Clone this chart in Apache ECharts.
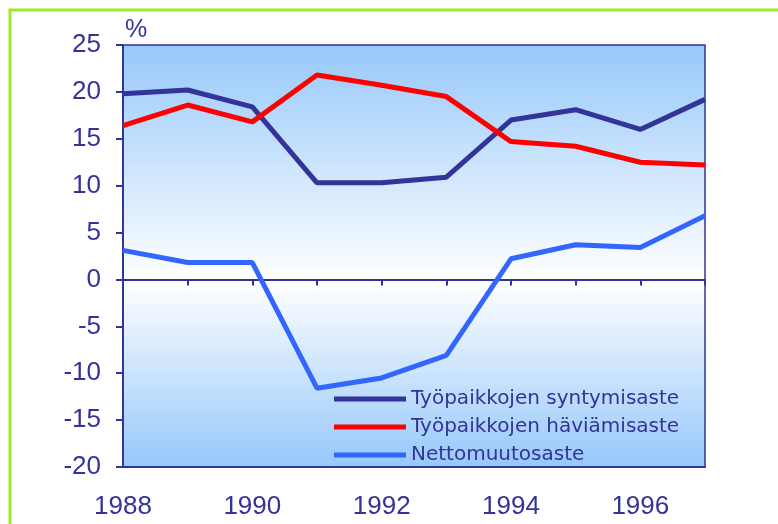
<!DOCTYPE html>
<html>
<head>
<meta charset="utf-8">
<script src="https://cdn.jsdelivr.net/npm/echarts@6/dist/echarts.min.js"></script>
<style>
  body { margin: 0; background: #fff; }
  #chart { width: 778px; height: 524px; }
</style>
</head>
<body>
<div id="chart"></div>
<script>
  var years = ['1988', '1989', '1990', '1991', '1992', '1993', '1994', '1995', '1996', '1997'];
  var syntyminen = [19.8, 20.2, 18.4, 10.3, 10.3, 10.9, 17.0, 18.1, 16.0, 19.2];
  var haviaminen = [16.4, 18.6, 16.8, 21.8, 20.7, 19.5, 14.7, 14.2, 12.5, 12.2];
  var netto = [3.1, 1.8, 1.8, -11.6, -10.5, -8.1, 2.2, 3.7, 3.4, 6.8];
  var seriesNames = ['Työpaikkojen syntymisaste', 'Työpaikkojen häviämisaste', 'Nettomuutosaste'];

  var myChart = echarts.init(document.getElementById('chart'));
  var navy = '#333399';
  var zeroPos = 25 / 45; // nollakohta gradientissa

  var option = {
    animation: false,
    graphic: [{
      type: 'rect',
      shape: { x: 10, y: 10, width: 820, height: 600 },
      style: { fill: 'none', stroke: '#a2e632', lineWidth: 3 }
    }],
    grid: {
      left: 123, right: 73, top: 45, bottom: 57,
      show: true,
      borderColor: navy,
      borderWidth: 1.5,
      backgroundColor: {
        type: 'linear', x: 0, y: 0, x2: 0, y2: 1,
        colorStops: [
          { offset: 0, color: '#96c8fa' },
          { offset: zeroPos, color: '#ffffff' },
          { offset: 1, color: '#96c8fa' }
        ]
      }
    },
    legend: {
      orient: 'vertical',
      left: 329, top: 384,
      icon: 'rect',
      itemWidth: 72, itemHeight: 5, itemGap: 8,
      selectedMode: false,
      textStyle: { color: navy, fontFamily: 'DejaVu Sans', fontSize: 20, lineHeight: 20, padding: [0, 0, 0, 0] },
      data: seriesNames
    },
    xAxis: [{
      type: 'category',
      data: years,
      boundaryGap: false,
      axisLine: { onZero: true, lineStyle: { color: navy, width: 2 } },
      axisTick: { show: true, inside: false, length: 6, interval: 0, lineStyle: { color: navy, width: 2 } },
      axisLabel: { show: false },
      splitLine: { show: false }
    }, {
      type: 'category',
      data: years,
      boundaryGap: false,
      position: 'bottom',
      axisLine: { onZero: false, lineStyle: { color: navy, width: 2 } },
      axisTick: { show: false },
      axisLabel: { interval: 1, color: navy, fontFamily: 'Liberation Sans', fontSize: 26, margin: 27 },
      splitLine: { show: false }
    }],
    yAxis: {
      type: 'value',
      min: -20, max: 25, interval: 5,
      name: '%',
      nameGap: 2,
      nameTextStyle: { color: navy, fontFamily: 'Liberation Sans', fontSize: 25, align: 'left', padding: [0, 0, 0, 2] },
      axisLine: { show: true, lineStyle: { color: navy, width: 2 } },
      axisTick: { show: true, length: 7, lineStyle: { color: navy, width: 2 } },
      axisLabel: { color: navy, fontFamily: 'Liberation Sans', fontSize: 26, margin: 22 },
      splitLine: { show: false }
    },
    series: [
      {
        name: seriesNames[0], type: 'line', data: syntyminen,
        symbol: 'none', lineStyle: { color: navy, width: 5 }, itemStyle: { color: navy }
      },
      {
        name: seriesNames[1], type: 'line', data: haviaminen,
        symbol: 'none', lineStyle: { color: '#ff0000', width: 5 }, itemStyle: { color: '#ff0000' }
      },
      {
        name: seriesNames[2], type: 'line', data: netto,
        symbol: 'none', lineStyle: { color: '#3366ff', width: 5 }, itemStyle: { color: '#3366ff' }
      }
    ]
  };
  myChart.setOption(option);
</script>
</body>
</html>
